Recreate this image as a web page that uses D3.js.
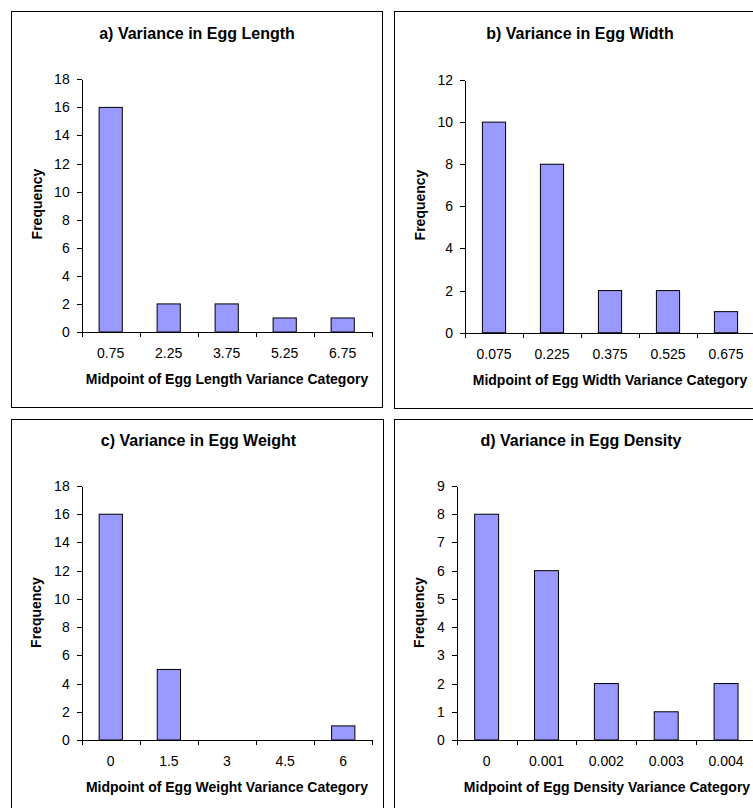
<!DOCTYPE html>
<html>
<head>
<meta charset="utf-8">
<script src="https://cdn.jsdelivr.net/npm/d3@7"></script>
<style>
  html, body { margin: 0; padding: 0; background: #fff; }
  svg { display: block; font-family: "Liberation Sans", Arial, sans-serif; }
</style>
</head>
<body>
<svg id="chart" width="753" height="808"></svg>
<script>
// Frequency histograms of within-clutch egg variance
const lengthCategories = ["0.75", "2.25", "3.75", "5.25", "6.75"];
const lengthFrequency = [16, 2, 2, 1, 1];
const lengthTicks = [0, 2, 4, 6, 8, 10, 12, 14, 16, 18];

const widthCategories = ["0.075", "0.225", "0.375", "0.525", "0.675"];
const widthFrequency = [10, 8, 2, 2, 1];
const widthTicks = [0, 2, 4, 6, 8, 10, 12];

const weightCategories = ["0", "1.5", "3", "4.5", "6"];
const weightFrequency = [16, 5, 0, 0, 1];
const weightTicks = [0, 2, 4, 6, 8, 10, 12, 14, 16, 18];

const densityCategories = ["0", "0.001", "0.002", "0.003", "0.004"];
const densityFrequency = [8, 6, 2, 1, 2];
const densityTicks = [0, 1, 2, 3, 4, 5, 6, 7, 8, 9];

const panelTitles = [
  "a) Variance in Egg Length",
  "b) Variance in Egg Width",
  "c) Variance in Egg Weight",
  "d) Variance in Egg Density"
];
const xTitles = [
  "Midpoint of Egg Length Variance Category",
  "Midpoint of Egg Width Variance Category",
  "Midpoint of Egg Weight Variance Category",
  "Midpoint of Egg Density Variance Category"
];
const yTitle = "Frequency";

const BAR_FILL = "#9999ff";

const svg = d3.select("#chart");

// Layout of each panel: frame box and plot area
const panels = [
  { cats: lengthCategories, vals: lengthFrequency, ticks: lengthTicks,
    frame: [11, 11, 371, 396], plot: { l: 81.7, r: 371.7, t: 79.3, b: 332 },
    titleX: 197, titleY: 39, yTitleX: 42, yTitleY: 204, xTitleX: 227 },
  { cats: widthCategories, vals: widthFrequency, ticks: widthTicks,
    frame: [394, 11, 420, 397], plot: { l: 465, r: 755, t: 80, b: 332.7 },
    titleX: 580, titleY: 39, yTitleX: 425, yTitleY: 205, xTitleX: 610 },
  { cats: weightCategories, vals: weightFrequency, ticks: weightTicks,
    frame: [11, 419, 372, 420], plot: { l: 81.7, r: 372.3, t: 486, b: 740 },
    titleX: 198.5, titleY: 445.7, yTitleX: 41, yTitleY: 612.5, xTitleX: 227 },
  { cats: densityCategories, vals: densityFrequency, ticks: densityTicks,
    frame: [394, 419, 420, 420], plot: { l: 456.7, r: 756, t: 486, b: 740 },
    titleX: 581, titleY: 445.7, yTitleX: 424, yTitleY: 612.5, xTitleX: 607 }
];

panels.forEach((p, i) => {
  const g = svg.append("g");
  const [fx, fy, fw, fh] = p.frame;

  g.append("rect")
    .attr("x", fx + 0.5).attr("y", fy + 0.5)
    .attr("width", fw).attr("height", fh)
    .attr("fill", "#fff").attr("stroke", "#000").attr("stroke-width", 1);

  const n = p.cats.length;
  const x = d3.scaleBand()
    .domain(p.cats)
    .range([p.plot.l, p.plot.r])
    .paddingInner(0.6)
    .paddingOuter(0.3);
  const xEdges = d3.scaleLinear().domain([0, n]).range([p.plot.l, p.plot.r]);
  const y = d3.scaleLinear()
    .domain([0, d3.max(p.ticks)])
    .range([p.plot.b, p.plot.t]);

  // bars
  g.append("g").selectAll("rect")
    .data(p.cats.map((c, k) => ({ c, v: p.vals[k] })).filter(d => d.v > 0))
    .join("rect")
    .attr("x", d => x(d.c))
    .attr("width", x.bandwidth())
    .attr("y", d => y(d.v))
    .attr("height", d => y(0) - y(d.v))
    .attr("fill", BAR_FILL)
    .attr("stroke", "#000")
    .attr("stroke-width", 1);

  // y axis
  const yAxis = g.append("g")
    .attr("transform", `translate(${p.plot.l},0)`)
    .call(d3.axisLeft(y).tickValues(p.ticks).tickSize(5).tickSizeOuter(0).tickPadding(7));
  yAxis.selectAll("text").attr("font-size", 14).attr("fill", "#000")
    .attr("font-family", "'Liberation Sans', Arial, sans-serif");

  // x axis: boundary ticks between categories
  g.append("g")
    .attr("transform", `translate(0,${p.plot.b})`)
    .call(d3.axisBottom(xEdges).tickValues(d3.range(n + 1)).tickSize(5).tickSizeOuter(0).tickFormat(""));

  // x axis: category labels centred under each bar
  const xLab = g.append("g")
    .attr("transform", `translate(0,${p.plot.b})`)
    .call(d3.axisBottom(x).tickSize(0).tickPadding(16));
  xLab.select(".domain").remove();
  xLab.selectAll("text").attr("font-size", 14).attr("fill", "#000")
    .attr("font-family", "'Liberation Sans', Arial, sans-serif");

  g.selectAll(".domain, .tick line").attr("stroke", "#000").attr("shape-rendering", "crispEdges");

  // titles
  g.append("text")
    .attr("x", p.titleX).attr("y", p.titleY)
    .attr("text-anchor", "middle")
    .attr("font-size", 16).attr("font-weight", "bold")
    .text(panelTitles[i]);

  g.append("text")
    .attr("x", p.xTitleX).attr("y", p.plot.b + 52)
    .attr("text-anchor", "middle")
    .attr("font-size", 14).attr("font-weight", "bold")
    .text(xTitles[i]);

  g.append("text")
    .attr("transform", `translate(${p.yTitleX},${p.yTitleY}) rotate(-90)`)
    .attr("text-anchor", "middle")
    .attr("font-size", 14).attr("font-weight", "bold")
    .text(yTitle);
});
</script>
</body>
</html>
